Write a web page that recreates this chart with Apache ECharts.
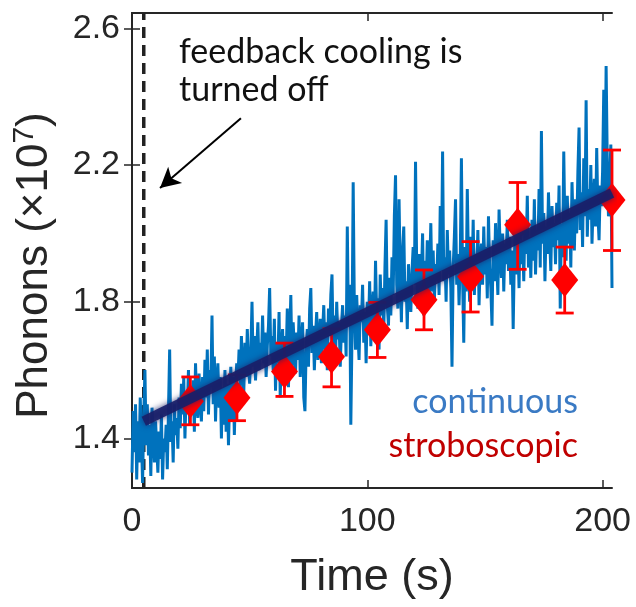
<!DOCTYPE html>
<html>
<head>
<meta charset="utf-8">
<script src="https://cdn.jsdelivr.net/npm/echarts@6/dist/echarts.min.js"></script>
<style>
html,body{margin:0;padding:0;background:#fff;}
#chart{width:636px;height:607px;}
</style>
</head>
<body>
<div id="chart"></div>
<script>
// ---- Continuous trace (time step 0.5 s, 0 .. 204 s) ----
const contStep = 0.5;
const contY = [
 1.30,1.48,1.36,1.50,1.28,1.45,1.33,1.52,1.40,1.27,1.47,1.60,1.38,1.50,1.35,1.44,1.29,1.49,1.42,1.33,
 1.45,1.38,1.30,1.42,1.34,1.47,1.28,1.40,1.36,1.44,1.31,1.48,1.66,1.39,1.45,1.33,1.50,1.41,1.46,1.37,
 1.52,1.43,1.56,1.47,1.58,1.40,1.53,1.49,1.60,1.44,1.55,1.48,1.57,1.42,1.62,1.50,1.46,1.59,1.51,1.45,
 1.58,1.48,1.63,1.52,1.66,1.47,1.60,1.55,1.76,1.50,1.64,1.45,1.57,1.62,1.49,1.58,1.40,1.55,1.44,1.60,
 1.42,1.56,1.38,1.52,1.61,1.45,1.58,1.41,1.54,1.62,1.57,1.66,1.55,1.70,1.60,1.53,1.68,1.58,1.72,1.62,
 1.56,1.65,1.80,1.61,1.70,1.57,1.66,1.74,1.60,1.68,1.63,1.76,1.62,1.71,1.58,1.67,1.73,1.84,1.64,1.70,
 1.60,1.75,1.54,1.68,1.62,1.77,1.52,1.66,1.72,1.58,1.70,1.63,1.78,1.55,1.69,1.82,1.61,1.74,1.66,1.59,
 1.71,1.63,1.76,1.58,1.68,1.74,1.52,1.48,1.66,1.72,1.61,1.78,1.84,1.65,1.73,1.60,1.70,1.77,1.63,1.69,
 1.75,1.62,1.71,1.79,1.66,1.74,1.60,1.78,1.70,1.82,1.88,1.67,1.76,1.63,1.80,1.69,1.74,1.61,1.72,1.79,
 1.68,1.76,1.64,2.02,1.73,1.85,1.44,1.70,2.15,1.78,1.66,1.82,1.71,1.63,1.79,1.74,1.85,1.68,1.77,1.62,
 1.80,1.72,1.86,1.67,1.78,1.83,1.70,1.92,1.75,1.81,1.66,1.88,1.76,1.84,1.71,1.90,2.04,1.79,1.73,1.87,
 1.76,1.93,1.82,2.05,2.17,1.85,1.78,2.10,1.88,1.74,1.95,2.02,1.80,1.86,1.72,1.91,1.83,1.77,1.89,1.96,
 1.85,2.21,1.90,1.78,1.94,1.81,1.87,2.00,1.76,1.92,1.84,1.98,1.79,1.89,2.03,1.83,1.95,1.80,1.91,1.86,
 1.97,1.82,2.08,1.89,2.24,1.86,1.93,1.80,2.01,1.88,1.95,1.84,1.61,1.90,1.99,2.10,1.85,1.94,1.79,1.92,
 2.22,1.87,1.68,1.96,1.83,2.13,1.91,1.80,1.99,1.86,2.04,1.82,1.94,1.89,2.01,1.79,1.92,1.97,1.85,2.02,
 1.88,1.96,1.81,2.05,1.90,1.84,1.73,1.98,1.86,2.03,1.92,1.82,2.07,1.95,1.87,2.00,1.83,1.97,1.91,2.04,
 1.89,1.99,1.85,1.95,1.72,1.93,2.02,1.88,1.97,1.84,2.05,1.91,1.98,1.86,2.03,1.94,2.11,1.90,1.99,1.87,
 2.04,1.92,2.10,1.88,2.01,1.95,2.13,1.90,2.30,1.97,2.06,1.86,2.02,1.94,2.12,1.99,1.89,2.08,1.96,2.03,
 1.91,2.09,1.98,2.14,1.78,2.03,1.93,2.24,2.00,1.92,2.11,1.97,2.06,1.90,2.15,2.02,1.95,2.10,2.00,2.18,
 2.31,2.01,2.12,1.96,2.22,2.05,2.39,1.99,2.13,2.04,2.20,1.97,2.09,2.16,2.02,2.25,2.06,1.98,2.14,2.08,
 2.18,2.42,2.11,2.49,2.20,2.05,2.15,2.26,1.84
];

// ---- Linear fit line ----
const fitX = [5, 204];
const fitY = [1.45, 2.118];

// ---- Stroboscopic measurements ----
const strobeX    = [24.8, 44.6, 64.8, 84.8, 104.3, 124.1, 143.9, 163.9, 183.9, 204];
const strobeY    = [1.509, 1.519, 1.596, 1.639, 1.718, 1.806, 1.874, 2.025, 1.864, 2.098];
const strobeLow  = [1.440, 1.452, 1.523, 1.551, 1.637, 1.718, 1.770, 1.895, 1.767, 1.950];
const strobeHigh = [1.580, 1.586, 1.679, 1.721, 1.798, 1.893, 1.976, 2.149, 1.960, 2.244];

// ---- Axes ----
const xTicks = [0, 100, 200];
const yTicks = [1.4, 1.8, 2.2, 2.6];
const xRange = [0, 204];
const yRange = [1.255, 2.645];

// ---- Annotations ----
const feedbackOffX = 5;
const arrowFrom = [46.3, 2.337];
const arrowTo = [11.9, 2.133];

const contData = contY.map((v, i) => [i * contStep, v]);
const fitData = fitX.map((x, i) => [x, fitY[i]]);
const strobeData = strobeX.map((x, i) => [x, strobeY[i]]);
const errData = strobeX.map((x, i) => [x, strobeLow[i], strobeHigh[i]]);
const offLineData = yRange.map(y => [feedbackOffX, y]);

const axisColor = '#262626';
const tickFont = "'Liberation Sans', Arial, sans-serif";
const noteFont = "'Lato', 'Open Sans', sans-serif";

const chart = echarts.init(document.getElementById('chart'), null, {renderer: 'canvas'});
chart.setOption({
  animation: false,
  backgroundColor: '#ffffff',
  grid: {left: 132, right: 24, top: 13, bottom: 119, containLabel: false},
  xAxis: [{
    type: 'value', min: xRange[0], max: xRange[1], position: 'bottom',
    name: 'Time (s)', nameLocation: 'middle', nameGap: 67,
    nameTextStyle: {fontFamily: tickFont, fontSize: 45, color: axisColor},
    axisLine: {show: true, lineStyle: {color: axisColor, width: 2}},
    axisTick: {show: true, inside: true, length: 8, lineStyle: {color: axisColor, width: 1.5}, customValues: xTicks},
    axisLabel: {show: true, fontFamily: tickFont, fontSize: 34, color: axisColor, margin: 17, customValues: xTicks},
    splitLine: {show: false}
  }, {
    type: 'value', min: xRange[0], max: xRange[1], position: 'top',
    axisLine: {show: true, lineStyle: {color: axisColor, width: 2}},
    axisTick: {show: true, inside: true, length: 8, lineStyle: {color: axisColor, width: 1.5}, customValues: xTicks},
    axisLabel: {show: false},
    splitLine: {show: false}
  }],
  yAxis: [{
    type: 'value', min: yRange[0], max: yRange[1], position: 'left',
    name: 'Phonons (×10{sup|7})', nameLocation: 'middle', nameGap: 72, nameRotate: 90,
    nameTextStyle: {fontFamily: tickFont, fontSize: 44, color: axisColor, padding: [0, 30, 0, 0],
      rich: {sup: {fontFamily: tickFont, fontSize: 30, color: axisColor, padding: [0, 0, 20, 0]}}},
    axisLine: {show: true, lineStyle: {color: axisColor, width: 2}},
    axisTick: {show: true, inside: true, length: 8, lineStyle: {color: axisColor, width: 1.5}, customValues: yTicks},
    axisLabel: {show: true, fontFamily: tickFont, fontSize: 34, color: axisColor, margin: 12, customValues: yTicks,
      formatter: v => v.toFixed(1)},
    splitLine: {show: false}
  }, {
    type: 'value', min: yRange[0], max: yRange[1], position: 'right',
    axisLine: {show: true, lineStyle: {color: axisColor, width: 2}},
    axisTick: {show: true, inside: true, length: 8, lineStyle: {color: axisColor, width: 1.5}, customValues: yTicks},
    axisLabel: {show: false},
    splitLine: {show: false}
  }],
  series: [{
    name: 'feedback off', type: 'line', data: offLineData, showSymbol: false, symbol: 'none', z: 1,
    lineStyle: {color: '#222222', width: 3.5, type: [11, 7]}
  }, {
    name: 'continuous', type: 'line', data: contData, showSymbol: false, symbol: 'none',
    lineStyle: {color: '#0072BD', width: 3}, z: 2,
    markLine: {
      silent: true, animation: false, label: {show: false},
      symbol: ['none', 'arrow'], symbolSize: [16, 20],
      lineStyle: {color: '#000000', width: 2, type: 'solid'},
      data: [[{coord: arrowFrom}, {coord: arrowTo}]]
    }
  }, {
    name: 'errorbars', type: 'custom', data: errData, z: 3, clip: false,
    renderItem: function (params, api) {
      const x = api.value(0);
      const pLo = api.coord([x, api.value(1)]);
      const pHi = api.coord([x, api.value(2)]);
      const hw = 9;
      const st = {stroke: '#ff0000', lineWidth: 2.8};
      return {type: 'group', children: [
        {type: 'line', shape: {x1: pLo[0], y1: pLo[1], x2: pHi[0], y2: pHi[1]}, style: st},
        {type: 'line', shape: {x1: pLo[0] - hw, y1: pLo[1], x2: pLo[0] + hw, y2: pLo[1]}, style: st},
        {type: 'line', shape: {x1: pHi[0] - hw, y1: pHi[1], x2: pHi[0] + hw, y2: pHi[1]}, style: st}
      ]};
    }
  }, {
    name: 'stroboscopic', type: 'scatter', data: strobeData, symbol: 'diamond', symbolSize: [27, 34],
    itemStyle: {color: '#ff0000', opacity: 1}, z: 4, clip: false
  }, {
    name: 'fit', type: 'line', data: fitData, showSymbol: false, symbol: 'none', z: 5,
    lineStyle: {color: 'rgba(25,32,105,0.92)', width: 10, shadowBlur: 6, shadowColor: 'rgba(25,32,105,0.9)', cap: 'butt'}
  }],
  graphic: [
    {type: 'text', left: 179, top: 35, style: {text: 'feedback cooling is', font: '34px ' + noteFont, fill: '#111111'}},
    {type: 'text', left: 179, top: 73, style: {text: 'turned off', font: '34px ' + noteFont, fill: '#111111'}},
    {type: 'text', right: 58, top: 385, style: {text: 'continuous', font: '34px ' + noteFont, fill: '#3a7ac4', align: 'right'}},
    {type: 'text', right: 58, top: 429, style: {text: 'stroboscopic', font: '34px ' + noteFont, fill: '#c00000', align: 'right'}}
  ]
});
</script>
</body>
</html>
